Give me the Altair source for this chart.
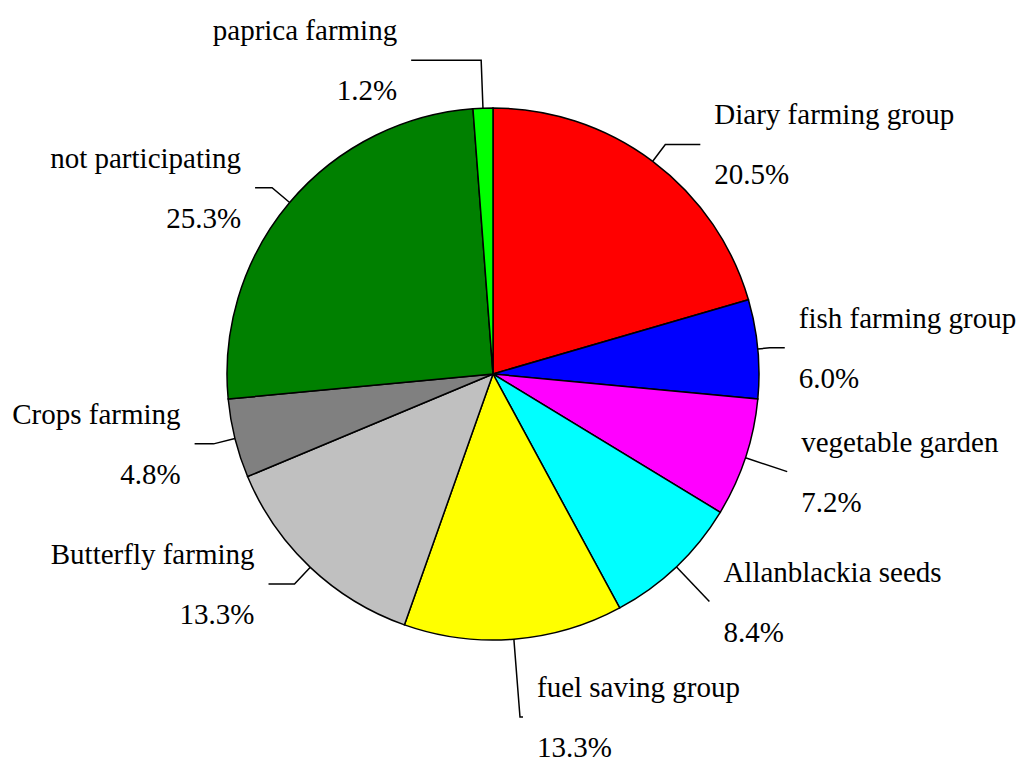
import math
import altair as alt
import pandas as pd

# ---- data ----
categories = ["Diary farming group", "fish farming group", "vegetable garden",
              "Allanblackia seeds", "fuel saving group", "Butterfly farming",
              "Crops farming", "not participating", "paprica farming"]
values = [20.5, 6.0, 7.2, 8.4, 13.3, 13.3, 4.8, 25.3, 1.2]
colors = ["#FF0000", "#0000FF", "#FF00FF", "#00FFFF", "#FFFF00",
          "#C0C0C0", "#808080", "#008000", "#00FF00"]

# ---- layout / style ----
R = 266                      # pie radius (px)
leader_radial = [21, 12, 44, 48, 78, 23, 22, 23, 48]    # radial leg beyond edge
leader_horiz = [35, 15, 0, 0, 3, 26, 19, 17, 70]        # horizontal leg
TEXT_GAP = 14
FONT = "Liberation Serif"
FS = 29
W, H = 1010, 760
CX, CY = 485, 366            # pie centre inside view

xscale = alt.Scale(domain=[-CX, W - CX], nice=False, zero=False)
yscale = alt.Scale(domain=[-(H - CY), CY], nice=False, zero=False)

total = sum(values)
pie_rows, line_rows, text_rows = [], [], []
cum = 0.0
for i, (c, v) in enumerate(zip(categories, values)):
    a = 2 * math.pi * (cum + v / 2) / total
    cum += v
    s, co = math.sin(a), math.cos(a)
    side = 1 if s > 0 else -1
    ex, ey = R * s, R * co
    rr = R + leader_radial[i]
    kx, ky = rr * s, rr * co
    tx, ty = kx + side * leader_horiz[i], ky
    pie_rows.append({"category": c, "value": v, "idx": i})
    for j, (px, py) in enumerate([(ex, ey), (kx, ky), (tx, ty)]):
        line_rows.append({"category": c, "p": j, "x": px, "y": py})
    lx = tx + side * (TEXT_GAP)
    text_rows.append({"label": c, "x": lx, "y": ty + 20, "side": side})
    text_rows.append({"label": f"{v:.1f}%", "x": lx, "y": ty - 40, "side": side})

pie_df = pd.DataFrame(pie_rows)
line_df = pd.DataFrame(line_rows)
text_df = pd.DataFrame(text_rows)

pie = alt.Chart(pie_df).mark_arc(outerRadius=R, stroke="black", strokeWidth=1.5).encode(
    theta=alt.Theta("value:Q", stack=True),
    color=alt.Color("category:N", scale=alt.Scale(domain=categories, range=colors), legend=None),
    order=alt.Order("idx:Q"),
    x=alt.XDatum(0, type="quantitative", scale=xscale, axis=None),
    y=alt.YDatum(0, type="quantitative", scale=yscale, axis=None),
)

lines = alt.Chart(line_df).mark_line(color="black", strokeWidth=1.5).encode(
    x=alt.X("x:Q", scale=xscale, axis=None),
    y=alt.Y("y:Q", scale=yscale, axis=None),
    detail="category:N",
    order="p:Q",
)

def text_layer(side, align):
    return alt.Chart(text_df).transform_filter(alt.datum.side == side).mark_text(
        align=align, baseline="alphabetic", font=FONT, fontSize=FS, color="black"
    ).encode(
        x=alt.X("x:Q", scale=xscale, axis=None),
        y=alt.Y("y:Q", scale=yscale, axis=None),
        text="label:N",
    )

chart = alt.layer(pie, lines, text_layer(1, "left"), text_layer(-1, "right")).properties(
    width=W, height=H, padding=0, autosize=alt.AutoSizeParams(type="none")
).configure_view(stroke=None)

chart.save("out.html", embed_options={"renderer": "svg", "actions": False})
